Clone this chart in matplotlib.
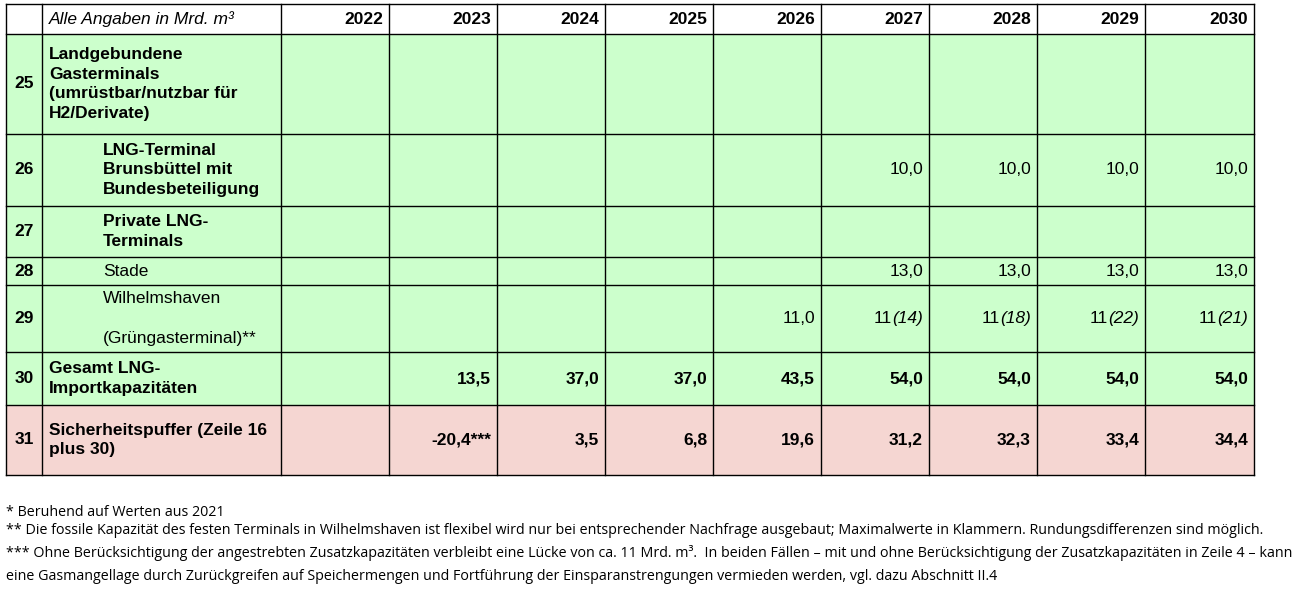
import matplotlib.pyplot as plt
from matplotlib.patches import Rectangle

plt.rcParams['font.family'] = ['Liberation Sans', 'DejaVu Sans']

years = ["2022", "2023", "2024", "2025", "2026", "2027", "2028", "2029", "2030"]
row_nums = ["25", "26", "27", "28", "29", "30", "31"]
row_labels = [
    "Landgebundene\nGasterminals\n(umrüstbar/nutzbar für\nH2/Derivate)",
    "LNG-Terminal\nBrunsbüttel mit\nBundesbeteiligung",
    "Private LNG-\nTerminals",
    "Stade",
    "Wilhelmshaven\n\n(Grüngasterminal)**",
    "Gesamt LNG-\nImportkapazitäten",
    "Sicherheitspuffer (Zeile 16\nplus 30)",
]
label_bold = [True, True, True, False, False, True, True]
label_indent = [False, True, True, True, True, False, False]
brunsbuettel = ["", "", "", "", "", "10,0", "10,0", "10,0", "10,0"]
stade = ["", "", "", "", "", "13,0", "13,0", "13,0", "13,0"]
wilhelmshaven = ["", "", "", "", "11,0", "11", "11", "11", "11"]
wilhelmshaven_max = ["", "", "", "", "", "(14)", "(18)", "(22)", "(21)"]
gesamt = ["", "13,5", "37,0", "37,0", "43,5", "54,0", "54,0", "54,0", "54,0"]
puffer = ["", "-20,4***", "3,5", "6,8", "19,6", "31,2", "32,3", "33,4", "34,4"]
row_values = [[""] * 9, brunsbuettel, [""] * 9, stade, wilhelmshaven, gesamt, puffer]
footnotes = [
    "* Beruhend auf Werten aus 2021",
    "** Die fossile Kapazität des festen Terminals in Wilhelmshaven ist flexibel wird nur bei entsprechender Nachfrage ausgebaut; Maximalwerte in Klammern. Rundungsdifferenzen sind möglich.",
    "*** Ohne Berücksichtigung der angestrebten Zusatzkapazitäten verbleibt eine Lücke von ca. 11 Mrd. m³.  In beiden Fällen – mit und ohne Berücksichtigung der Zusatzkapazitäten in Zeile 4 – kann",
    "eine Gasmangellage durch Zurückgreifen auf Speichermengen und Fortführung der Einsparanstrengungen vermieden werden, vgl. dazu Abschnitt II.4",
]

# layout in pixels
col_x = [6, 42, 281, 389, 497, 605, 713, 821, 929, 1037, 1145, 1254]
row_y = [4, 34, 134, 206, 257, 285, 352, 405, 475]
green = "#ccffcc"
pink = "#f5d6d2"

fig = plt.figure(figsize=(12.92, 6.12), dpi=100)
ax = fig.add_axes([0, 0, 1, 1])
ax.set_xlim(0, 1292)
ax.set_ylim(612, 0)
ax.axis("off")

for i in range(1, len(row_y) - 1):
    color = pink if i == len(row_y) - 2 else green
    ax.add_patch(Rectangle((col_x[0], row_y[i]), col_x[-1] - col_x[0],
                           row_y[i + 1] - row_y[i], facecolor=color, edgecolor="none"))
for y in row_y:
    ax.plot([col_x[0], col_x[-1]], [y, y], color="black", lw=1)
for x in col_x:
    ax.plot([x, x], [row_y[0], row_y[-1]], color="black", lw=1)

fs = 12.5
ax.text(49, 19, "Alle Angaben in Mrd. m³", style="italic", fontsize=fs, va="center")
for j, yr in enumerate(years):
    ax.text(col_x[j + 3] - 6, 19, yr, fontsize=fs, weight="bold", ha="right", va="center")

fig.canvas.draw()
renderer = fig.canvas.get_renderer()

for i, num in enumerate(row_nums):
    yc = (row_y[i + 1] + row_y[i + 2]) / 2
    bold = "bold" if label_bold[i] else "normal"
    ax.text(24, yc, num, fontsize=fs, weight="bold", ha="center", va="center")
    lx = 103 if label_indent[i] else 49
    ax.text(lx, yc, row_labels[i], fontsize=fs, weight=bold, va="center", linespacing=1.4)
    for j, v in enumerate(row_values[i]):
        if not v:
            continue
        xr = col_x[j + 3] - 6
        if i == 4 and wilhelmshaven_max[j]:
            t = ax.text(xr, yc, wilhelmshaven_max[j], fontsize=fs, style="italic", ha="right", va="center")
            w = t.get_window_extent(renderer).width
            ax.text(xr - w, yc, v, fontsize=fs, ha="right", va="center")
        else:
            wt = "bold" if i >= 5 else "normal"
            ax.text(xr, yc, v, fontsize=fs, weight=wt, ha="right", va="center")

for k, line in enumerate(footnotes):
    ax.text(6, [512, 531, 553, 577][k], line, fontsize=10.3, va="center", family=["Open Sans", "DejaVu Sans"])

fig.savefig("out.png", dpi=100)
